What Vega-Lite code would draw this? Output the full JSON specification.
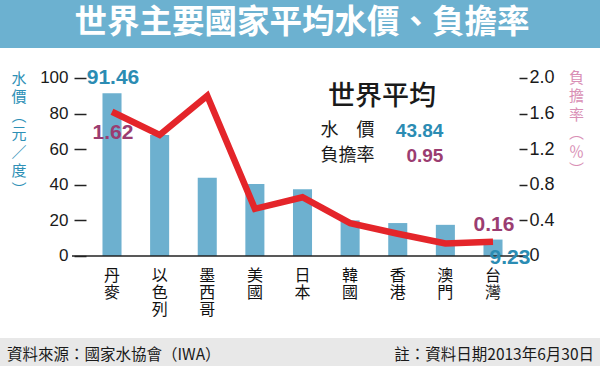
{
  "$schema": "https://vega.github.io/schema/vega-lite/v6.json",
  "width": 600,
  "height": 366,
  "autosize": {"type": "none"},
  "padding": 0,
  "background": "white",
  "config": {
    "font": "Noto Sans CJK TC",
    "view": {"stroke": null},
    "axis": {"grid": false}
  },
  "datasets": {
    "water": [
      {"country": "丹麥", "price": 91.46, "rate": 1.62},
      {"country": "以色列", "price": 68, "rate": 1.36},
      {"country": "墨西哥", "price": 44, "rate": 1.80},
      {"country": "美國", "price": 40.5, "rate": 0.53},
      {"country": "日本", "price": 37.5, "rate": 0.66},
      {"country": "韓國", "price": 20, "rate": 0.37},
      {"country": "香港", "price": 18.5, "rate": 0.25},
      {"country": "澳門", "price": 17.5, "rate": 0.14},
      {"country": "台灣", "price": 9.23, "rate": 0.16}
    ]
  },
  "layer": [
    {
      "layer": [
        {
          "data": {"values": [{}]},
          "mark": {"type": "rect", "color": "#6cb1d0"},
          "encoding": {
            "y": {"datum": 143.8, "type": "quantitative"},
            "y2": {"datum": 116.85}
          }
        },
        {
          "data": {"values": [{}]},
          "mark": {"type": "rect", "color": "#e8e8e8"},
          "encoding": {
            "y": {"datum": -46.1, "type": "quantitative"},
            "y2": {"datum": -61.8}
          }
        },
        {
          "data": {"values": [{}]},
          "mark": {"type": "text", "text": "世界主要國家平均水價、負擔率", "font": "Noto Sans CJK TC", "fontSize": 32.5, "fontWeight": "bold", "color": "white", "align": "center", "baseline": "middle", "dx": 2},
          "encoding": {
            "y": {"datum": 130.8, "type": "quantitative"}
          }
        },
        {
          "data": {"name": "water"},
          "mark": {"type": "bar", "color": "#6db0cf"},
          "encoding": {
            "x": {
              "field": "country", "type": "nominal", "sort": null,
              "scale": {"range": [86, 519], "paddingInner": 0.6, "paddingOuter": 0.346, "align": 0.5},
              "axis": {
                "orient": "bottom", "offset": -110, "domain": false, "ticks": false,
                "labelAngle": 0, "labelExpr": "split(datum.label, '')",
                "labelFont": "Noto Sans CJK TC", "labelFontSize": 16, "labelLineHeight": 17,
                "labelBaseline": "top", "labelPadding": 11, "labelColor": "#111111",
                "labelOverlap": false, "title": null
              }
            },
            "y": {
              "field": "price", "type": "quantitative",
              "scale": {"domain": [-61.8, 143.8], "nice": false, "zero": false},
              "axis": {
                "orient": "left", "offset": -86, "values": [0, 20, 40, 60, 80, 100],
                "domain": false, "tickSize": 12, "tickWidth": 1.5, "tickColor": "#222222",
                "labelFont": "Liberation Sans", "labelFontSize": 17, "labelColor": "#1a1a1a", "labelPadding": 6,
                "title": ["水", "價", "︵", "元", "／", "度", "︶"],
                "titleAngle": 0, "titleX": -67.5, "titleY": 78, "titleAlign": "center", "titleBaseline": "middle",
                "titleFont": "Noto Sans CJK TC", "titleFontSize": 15, "titleFontWeight": "normal",
                "titleColor": "#2e90b6", "titleLineHeight": 18.5
              }
            }
          }
        },
        {
          "data": {"values": [{}]},
          "mark": {"type": "rule", "color": "#222222", "strokeWidth": 1.5, "xOffset": -40, "x2Offset": 34},
          "encoding": {
            "x": {"datum": "丹麥", "type": "nominal"},
            "x2": {"datum": "台灣"},
            "y": {"datum": 0, "type": "quantitative"}
          }
        },
        {
          "data": {"name": "water"},
          "transform": [{"filter": "datum.country == '丹麥'"}],
          "mark": {"type": "text", "font": "Liberation Sans", "fontSize": 21, "fontWeight": "bold", "color": "#2b8cb3", "baseline": "middle", "dy": -15, "dx": 1},
          "encoding": {
            "x": {"field": "country", "type": "nominal", "sort": null},
            "y": {"field": "price", "type": "quantitative"},
            "text": {"field": "price", "type": "quantitative", "format": ".2f"}
          }
        },
        {
          "data": {"name": "water"},
          "transform": [{"filter": "datum.country == '台灣'"}],
          "mark": {"type": "text", "font": "Liberation Sans", "fontSize": 21, "fontWeight": "bold", "color": "#2b8cb3", "baseline": "middle", "dy": 18.5, "dx": 17},
          "encoding": {
            "x": {"field": "country", "type": "nominal", "sort": null},
            "y": {"field": "price", "type": "quantitative"},
            "text": {"field": "price", "type": "quantitative", "format": ".2f"}
          }
        },
        {
          "data": {"values": [{}]},
          "mark": {"type": "text", "text": "世界平均", "font": "Noto Sans CJK TC", "fontSize": 27, "fontWeight": 500, "color": "#1a1a1a", "align": "center", "baseline": "middle", "dx": 32},
          "encoding": {
            "x": {"datum": "韓國", "type": "nominal"},
            "y": {"datum": 89.3, "type": "quantitative"}
          }
        },
        {
          "data": {"values": [{}]},
          "mark": {"type": "text", "text": "水　價", "font": "Noto Sans CJK TC", "fontSize": 18, "color": "#1a1a1a", "align": "left", "baseline": "middle", "dx": 18},
          "encoding": {
            "x": {"datum": "日本", "type": "nominal"},
            "y": {"datum": 70.2, "type": "quantitative"}
          }
        },
        {
          "data": {"values": [{}]},
          "mark": {"type": "text", "text": "負擔率", "font": "Noto Sans CJK TC", "fontSize": 18, "color": "#1a1a1a", "align": "left", "baseline": "middle", "dx": 18},
          "encoding": {
            "x": {"datum": "日本", "type": "nominal"},
            "y": {"datum": 55.9, "type": "quantitative"}
          }
        },
        {
          "data": {"values": [{}]},
          "mark": {"type": "text", "text": "43.84", "font": "Liberation Sans", "fontSize": 19, "fontWeight": "bold", "color": "#2b8cb3", "align": "right", "baseline": "middle", "dx": -2},
          "encoding": {
            "x": {"datum": "澳門", "type": "nominal"},
            "y": {"datum": 70.2, "type": "quantitative"}
          }
        },
        {
          "data": {"values": [{}]},
          "mark": {"type": "text", "text": "0.95", "font": "Liberation Sans", "fontSize": 19, "fontWeight": "bold", "color": "#9b3d71", "align": "right", "baseline": "middle", "dx": -2},
          "encoding": {
            "x": {"datum": "澳門", "type": "nominal"},
            "y": {"datum": 55.9, "type": "quantitative"}
          }
        },
        {
          "data": {"values": [{}]},
          "mark": {"type": "text", "text": "資料來源：國家水協會（IWA）", "font": "Noto Sans CJK TC", "fontSize": 15.5, "color": "#1a1a1a", "align": "left", "baseline": "middle", "dx": -105},
          "encoding": {
            "x": {"datum": "丹麥", "type": "nominal"},
            "y": {"datum": -55.6, "type": "quantitative"}
          }
        },
        {
          "data": {"values": [{}]},
          "mark": {"type": "text", "text": "註：資料日期2013年6月30日", "font": "Noto Sans CJK TC", "fontSize": 15.5, "color": "#1a1a1a", "align": "right", "baseline": "middle", "dx": 101},
          "encoding": {
            "x": {"datum": "台灣", "type": "nominal"},
            "y": {"datum": -55.6, "type": "quantitative"}
          }
        }
      ]
    },
    {
      "layer": [
        {
          "data": {"name": "water"},
          "mark": {"type": "line", "color": "#e4252a", "strokeWidth": 6.5, "strokeJoin": "miter", "strokeCap": "butt"},
          "encoding": {
            "x": {"field": "country", "type": "nominal", "sort": null},
            "y": {
              "field": "rate", "type": "quantitative",
              "scale": {"domain": [-1.236, 2.876], "nice": false, "zero": false},
              "axis": {
                "orient": "right", "offset": -81, "values": [0, 0.4, 0.8, 1.2, 1.6, 2.0],
                "domain": false, "tickSize": 8, "tickWidth": 1.5, "tickColor": "#222222",
                "labelExpr": "datum.value == 0 ? '0' : format(datum.value, '.1f')",
                "labelFont": "Liberation Sans", "labelFontSize": 18, "labelColor": "#1a1a1a", "labelPadding": 2,
                "title": ["負", "擔", "率", "︵", "％", "︶"],
                "titleAngle": 0, "titleX": 57, "titleY": 77, "titleAlign": "center", "titleBaseline": "middle",
                "titleFont": "Noto Sans CJK TC", "titleFontSize": 15, "titleFontWeight": "normal",
                "titleColor": "#d98fb5", "titleLineHeight": 18.5
              }
            }
          }
        },
        {
          "data": {"name": "water"},
          "transform": [{"filter": "datum.country == '丹麥'"}],
          "mark": {"type": "text", "font": "Liberation Sans", "fontSize": 21, "fontWeight": "bold", "color": "#9b3d71", "baseline": "middle", "dy": 21, "dx": 1},
          "encoding": {
            "x": {"field": "country", "type": "nominal", "sort": null},
            "y": {"field": "rate", "type": "quantitative"},
            "text": {"field": "rate", "type": "quantitative", "format": ".2f"}
          }
        },
        {
          "data": {"name": "water"},
          "transform": [{"filter": "datum.country == '台灣'"}],
          "mark": {"type": "text", "font": "Liberation Sans", "fontSize": 21, "fontWeight": "bold", "color": "#9b3d71", "baseline": "middle", "dy": -17, "dx": 1},
          "encoding": {
            "x": {"field": "country", "type": "nominal", "sort": null},
            "y": {"field": "rate", "type": "quantitative"},
            "text": {"field": "rate", "type": "quantitative", "format": ".2f"}
          }
        }
      ]
    }
  ],
  "resolve": {"scale": {"y": "independent"}, "axis": {"y": "independent"}}
}
